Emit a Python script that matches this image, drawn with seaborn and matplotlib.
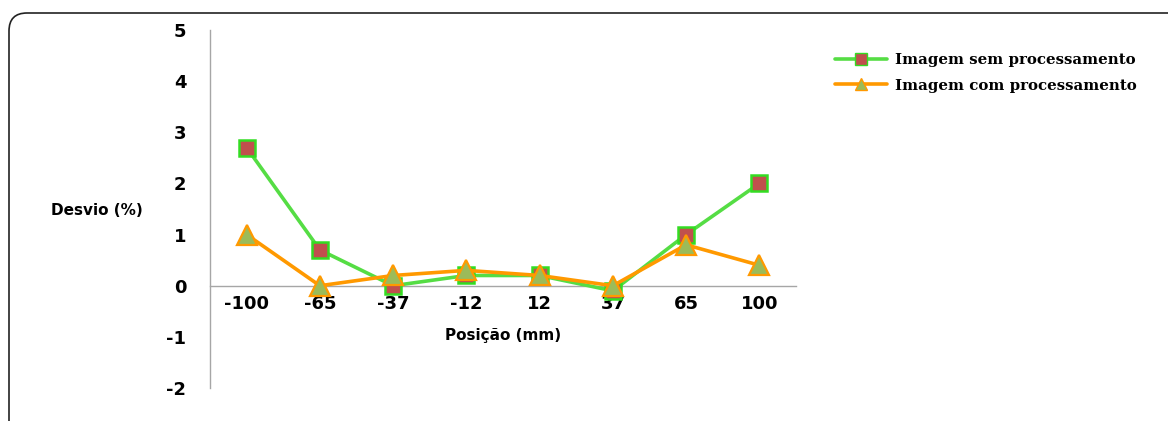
import pandas as pd
import matplotlib
matplotlib.use("Agg")
import matplotlib.pyplot as plt
import seaborn as sns
from matplotlib.patches import FancyBboxPatch
from matplotlib.lines import Line2D

# Dados
posicoes = ['-100', '-65', '-37', '-12', '12', '37', '65', '100']
sem_proc = [2.7, 0.7, 0.0, 0.2, 0.2, -0.1, 1.0, 2.0]
com_proc = [1.0, 0.0, 0.2, 0.3, 0.2, 0.0, 0.8, 0.4]
y_ticks = [-2, -1, 0, 1, 2, 3, 4, 5]

df = pd.DataFrame({'pos': posicoes, 'sem': sem_proc, 'com': com_proc})

sns.set_style("white")
plt.rcParams['font.family'] = ['DejaVu Sans']
plt.rcParams['axes.unicode_minus'] = False
plt.rcParams['text.color'] = 'black'
plt.rcParams['xtick.labelcolor'] = 'black'
plt.rcParams['ytick.labelcolor'] = 'black'

fig = plt.figure(figsize=(11.68, 4.21), dpi=100)
ax = fig.add_axes([0.1798, 0.0784, 0.5017, 0.8503])

verde = '#55dd44'
laranja = '#ff9900'

sns.lineplot(data=df, x='pos', y='sem', ax=ax, sort=False, color=verde,
             linewidth=2.6, marker='s', markersize=12,
             markerfacecolor='#c0504d', markeredgecolor='#33dd22',
             markeredgewidth=1.8, zorder=3)
sns.lineplot(data=df, x='pos', y='com', ax=ax, sort=False, color=laranja,
             linewidth=2.6, marker='^', markersize=14,
             markerfacecolor='#9bbb59', markeredgecolor=laranja,
             markeredgewidth=1.6, zorder=4)

# Eixos
ax.set_xlim(-0.5, 7.5)
ax.set_ylim(-2, 5)
ax.set_yticks(y_ticks)
ax.set_xlabel('')
ax.set_ylabel('')
ax.spines['top'].set_visible(False)
ax.spines['right'].set_visible(False)
ax.spines['bottom'].set_position(('data', 0))
for s in ['left', 'bottom']:
    ax.spines[s].set_color('#a6a6a6')
    ax.spines[s].set_linewidth(1.0)

ax.set_xticks([i - 0.5 for i in range(len(posicoes) + 1)], minor=True)
ax.tick_params(axis='x', which='major', length=0, pad=7, labelsize=13)
ax.tick_params(axis='x', which='minor', length=5, color='#a6a6a6', direction='out')
ax.tick_params(axis='y', length=7, color='#a6a6a6', direction='out', pad=10, labelsize=13)
for lbl in ax.get_xticklabels() + ax.get_yticklabels():
    lbl.set_fontweight('bold')
    lbl.set_color('black')

fig.text(0.431, 0.203, 'Posição (mm)', ha='center', va='center',
         fontsize=11, fontweight='bold', color='black')
fig.text(0.083, 0.5, 'Desvio (%)', ha='center', va='center',
         fontsize=11, fontweight='bold', color='black')

# Legenda
handles = [
    Line2D([], [], color=verde, linewidth=2.6, marker='s', markersize=8,
           markerfacecolor='#c0504d', markeredgecolor='#33dd22'),
    Line2D([], [], color=laranja, linewidth=2.6, marker='^', markersize=8,
           markerfacecolor='#9bbb59', markeredgecolor=laranja),
]
leg = fig.legend(handles, ['Imagem sem processamento', 'Imagem com processamento'],
                 loc='upper left', bbox_to_anchor=(0.703, 0.905), frameon=False,
                 handlelength=3.5, handletextpad=0.5, labelspacing=0.75,
                 prop={'family': 'DejaVu Serif', 'weight': 'bold', 'size': 10.8})
for t in leg.get_texts():
    t.set_color('black')

# Moldura arredondada
moldura = FancyBboxPatch((9, -40), 1200, 448, boxstyle='round,pad=0,rounding_size=18',
                         transform=None, fill=False, edgecolor='#222222',
                         linewidth=1.2, clip_on=False)
fig.patches.append(moldura)

fig.savefig('out.png', dpi=100)
